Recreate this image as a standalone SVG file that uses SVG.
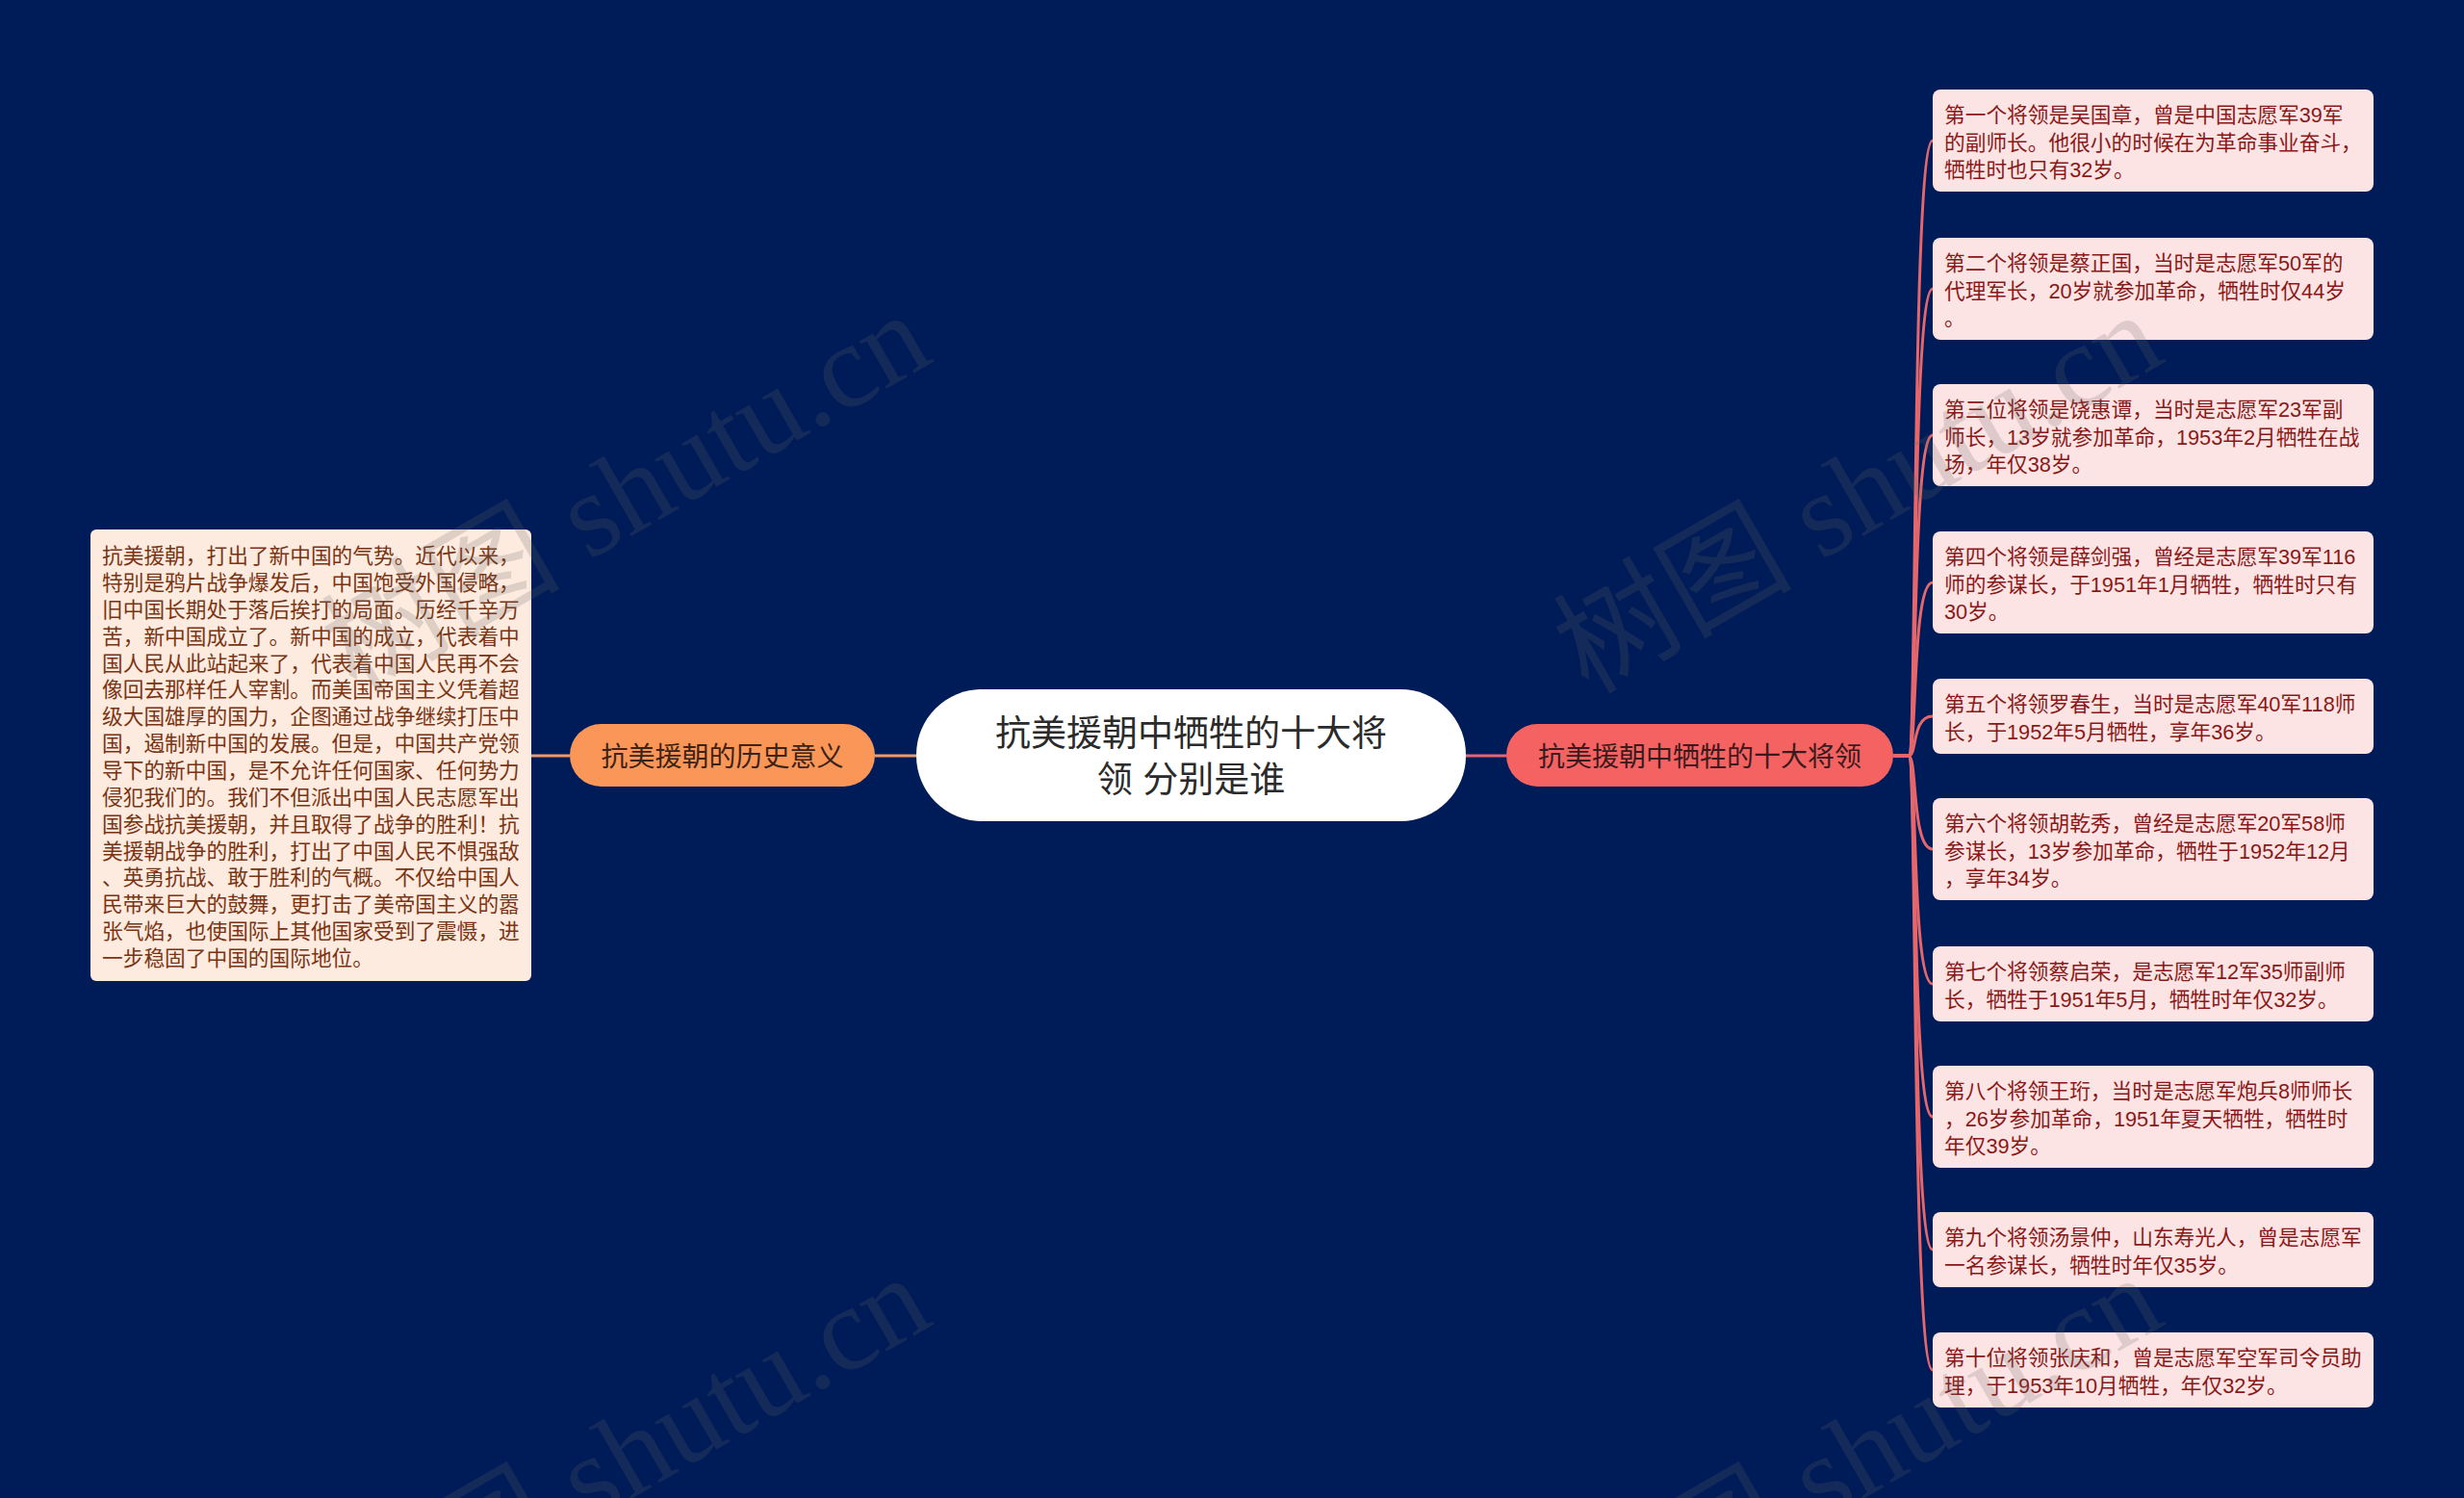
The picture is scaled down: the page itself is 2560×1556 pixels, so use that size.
<svg xmlns="http://www.w3.org/2000/svg" width="2560" height="1556" viewBox="0 0 2560 1556">
<style>
.t{font-family:"Liberation Sans","Noto Sans CJK SC",sans-serif}
.leaf{fill:#fde4e4}
.leaft{font-size:21.7px;fill:#8a1818}
.desc{fill:#fdebdf}
.desct{font-size:21.7px;fill:#7a3413}
.cr{fill:none;stroke:#e5676b;stroke-width:3}
.co{fill:none;stroke:#f09a62;stroke-width:3}
.wm{font-family:"Liberation Serif","Noto Sans CJK SC",serif;font-size:124px;fill:#666;opacity:0.2}
</style>
<rect width="2560" height="1556" fill="#001c58"/>
<g id="connectors">
<path class="co" d="M552 785 H592"/>
<path class="co" d="M909 785 H952"/>
<path class="cr" d="M1523 785 H1565"/>
<path class="cr" d="M1967 785 H1983 C1992 785 1986 146 2008 146"/>
<path class="cr" d="M1967 785 H1983 C1992 785 1986 300 2008 300"/>
<path class="cr" d="M1967 785 H1983 C1992 785 1986 452 2008 452"/>
<path class="cr" d="M1967 785 H1983 C1992 785 1986 605 2008 605"/>
<path class="cr" d="M1967 785 H1983 C1992 785 1986 744 2008 744"/>
<path class="cr" d="M1967 785 H1983 C1992 785 1986 882 2008 882"/>
<path class="cr" d="M1967 785 H1983 C1992 785 1986 1022 2008 1022"/>
<path class="cr" d="M1967 785 H1983 C1992 785 1986 1160 2008 1160"/>
<path class="cr" d="M1967 785 H1983 C1992 785 1986 1298 2008 1298"/>
<path class="cr" d="M1967 785 H1983 C1992 785 1986 1423 2008 1423"/>
</g>
<g id="root">
<rect x="952" y="716" width="571" height="137" rx="68" fill="#ffffff"/>
<text class="t" x="1237.5" y="775" text-anchor="middle" font-size="37" fill="#2b2b2b">抗美援朝中牺牲的十大将</text>
<text class="t" x="1237.5" y="823" text-anchor="middle" font-size="37" fill="#2b2b2b">领 分别是谁</text>
</g>
<g id="history">
<rect x="592" y="752" width="317" height="65" rx="32.5" fill="#fa9758"/>
<text class="t" x="750.5" y="796" text-anchor="middle" font-size="28" fill="#3d2316">抗美援朝的历史意义</text>
</g>
<g id="history-text">
<rect class="desc" x="94" y="550" width="458" height="469" rx="6"/>
<text class="t desct">
<tspan x="106" y="585">抗美援朝，打出了新中国的气势。近代以来，</tspan>
<tspan x="106" y="613">特别是鸦片战争爆发后，中国饱受外国侵略，</tspan>
<tspan x="106" y="641">旧中国长期处于落后挨打的局面。历经千辛万</tspan>
<tspan x="106" y="668.6">苦，新中国成立了。新中国的成立，代表着中</tspan>
<tspan x="106" y="696.5">国人民从此站起来了，代表着中国人民再不会</tspan>
<tspan x="106" y="724.4">像回去那样任人宰割。而美国帝国主义凭着超</tspan>
<tspan x="106" y="752.2">级大国雄厚的国力，企图通过战争继续打压中</tspan>
<tspan x="106" y="780.1">国，遏制新中国的发展。但是，中国共产党领</tspan>
<tspan x="106" y="808">导下的新中国，是不允许任何国家、任何势力</tspan>
<tspan x="106" y="835.8">侵犯我们的。我们不但派出中国人民志愿军出</tspan>
<tspan x="106" y="863.7">国参战抗美援朝，并且取得了战争的胜利！抗</tspan>
<tspan x="106" y="891.6">美援朝战争的胜利，打出了中国人民不惧强敌</tspan>
<tspan x="106" y="919.4">、英勇抗战、敢于胜利的气概。不仅给中国人</tspan>
<tspan x="106" y="947.3">民带来巨大的鼓舞，更打击了美帝国主义的嚣</tspan>
<tspan x="106" y="975.2">张气焰，也使国际上其他国家受到了震慑，进</tspan>
<tspan x="106" y="1003">一步稳固了中国的国际地位。</tspan>
</text>
</g>
<g id="generals">
<rect x="1565" y="752" width="402" height="65" rx="32.5" fill="#f56262"/>
<text class="t" x="1766" y="796" text-anchor="middle" font-size="28" fill="#3a1a1c">抗美援朝中牺牲的十大将领</text>
</g>
<g id="leaf1">
<rect class="leaf" x="2008" y="93" width="458" height="106" rx="8"/>
<text class="t leaft"><tspan x="2020" y="127">第一个将领是吴国章，曾是中国志愿军39军</tspan><tspan x="2020" y="155.5">的副师长。他很小的时候在为革命事业奋斗，</tspan><tspan x="2020" y="184">牺牲时也只有32岁。</tspan></text>
</g>
<g id="leaf2">
<rect class="leaf" x="2008" y="247" width="458" height="106" rx="8"/>
<text class="t leaft"><tspan x="2020" y="281">第二个将领是蔡正国，当时是志愿军50军的</tspan><tspan x="2020" y="309.5">代理军长，20岁就参加革命，牺牲时仅44岁</tspan><tspan x="2020" y="338">。</tspan></text>
</g>
<g id="leaf3">
<rect class="leaf" x="2008" y="399" width="458" height="106" rx="8"/>
<text class="t leaft"><tspan x="2020" y="433">第三位将领是饶惠谭，当时是志愿军23军副</tspan><tspan x="2020" y="461.5">师长，13岁就参加革命，1953年2月牺牲在战</tspan><tspan x="2020" y="490">场，年仅38岁。</tspan></text>
</g>
<g id="leaf4">
<rect class="leaf" x="2008" y="552" width="458" height="106" rx="8"/>
<text class="t leaft"><tspan x="2020" y="586">第四个将领是薛剑强，曾经是志愿军39军116</tspan><tspan x="2020" y="614.5">师的参谋长，于1951年1月牺牲，牺牲时只有</tspan><tspan x="2020" y="643">30岁。</tspan></text>
</g>
<g id="leaf5">
<rect class="leaf" x="2008" y="705" width="458" height="78" rx="8"/>
<text class="t leaft"><tspan x="2020" y="739">第五个将领罗春生，当时是志愿军40军118师</tspan><tspan x="2020" y="767.5">长，于1952年5月牺牲，享年36岁。</tspan></text>
</g>
<g id="leaf6">
<rect class="leaf" x="2008" y="829" width="458" height="106" rx="8"/>
<text class="t leaft"><tspan x="2020" y="863">第六个将领胡乾秀，曾经是志愿军20军58师</tspan><tspan x="2020" y="891.5">参谋长，13岁参加革命，牺牲于1952年12月</tspan><tspan x="2020" y="920">，享年34岁。</tspan></text>
</g>
<g id="leaf7">
<rect class="leaf" x="2008" y="983" width="458" height="78" rx="8"/>
<text class="t leaft"><tspan x="2020" y="1017">第七个将领蔡启荣，是志愿军12军35师副师</tspan><tspan x="2020" y="1045.5">长，牺牲于1951年5月，牺牲时年仅32岁。</tspan></text>
</g>
<g id="leaf8">
<rect class="leaf" x="2008" y="1107" width="458" height="106" rx="8"/>
<text class="t leaft"><tspan x="2020" y="1141">第八个将领王珩，当时是志愿军炮兵8师师长</tspan><tspan x="2020" y="1169.5">，26岁参加革命，1951年夏天牺牲，牺牲时</tspan><tspan x="2020" y="1198">年仅39岁。</tspan></text>
</g>
<g id="leaf9">
<rect class="leaf" x="2008" y="1259" width="458" height="78" rx="8"/>
<text class="t leaft"><tspan x="2020" y="1293">第九个将领汤景仲，山东寿光人，曾是志愿军</tspan><tspan x="2020" y="1321.5">一名参谋长，牺牲时年仅35岁。</tspan></text>
</g>
<g id="leaf10">
<rect class="leaf" x="2008" y="1384" width="458" height="78" rx="8"/>
<text class="t leaft"><tspan x="2020" y="1418">第十位将领张庆和，曾是志愿军空军司令员助</tspan><tspan x="2020" y="1446.5">理，于1953年10月牺牲，年仅32岁。</tspan></text>
</g>
<g id="watermarks">
<text class="wm" x="370" y="722" transform="rotate(-30 370 722)">树图 shutu.cn</text>
<text class="wm" x="1650" y="722" transform="rotate(-30 1650 722)">树图 shutu.cn</text>
<text class="wm" x="370" y="1722" transform="rotate(-30 370 1722)">树图 shutu.cn</text>
<text class="wm" x="1650" y="1722" transform="rotate(-30 1650 1722)">树图 shutu.cn</text>
</g>
</svg>
